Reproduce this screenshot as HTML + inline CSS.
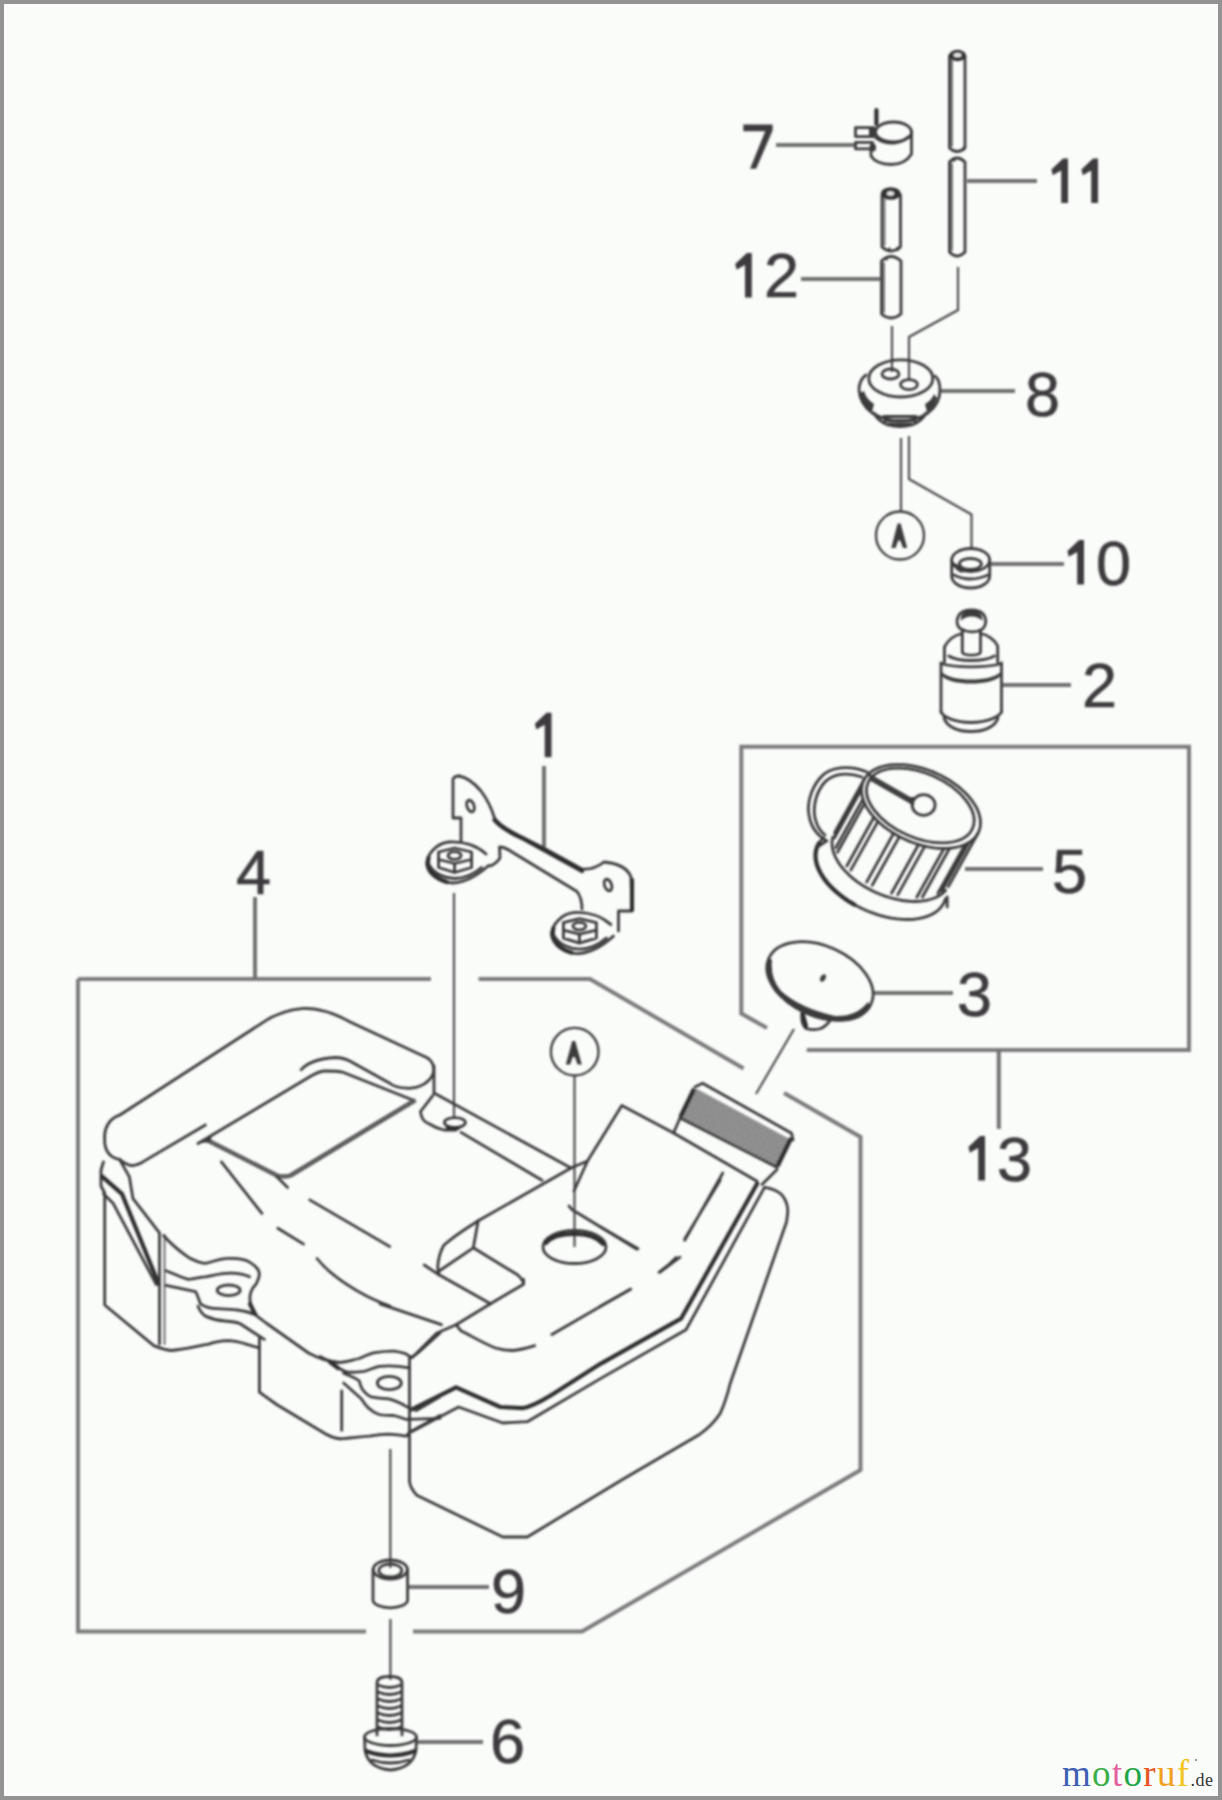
<!DOCTYPE html>
<html><head><meta charset="utf-8"><title>Parts diagram</title>
<style>
html,body{margin:0;padding:0;background:#fafcfa;}
body{width:1222px;height:1800px;overflow:hidden;}
svg{display:block;}
.bx{fill:none;stroke:#7a7a7a;stroke-width:4;stroke-linecap:butt;stroke-linejoin:miter;}
.ld{fill:none;stroke:#707070;stroke-width:4;}
.cn{fill:none;stroke:#484848;stroke-width:2.2;}
.p{fill:none;stroke:#3a3a3a;stroke-width:2.8;stroke-linecap:round;stroke-linejoin:round;}
.pt{fill:none;stroke:#2e2e2e;stroke-width:4.2;stroke-linecap:round;stroke-linejoin:round;}
.pl{fill:none;stroke:#6a6a6a;stroke-width:1.8;stroke-linecap:round;}
.f{fill:#3a3a3a;stroke:none;}
.t{font-family:"Liberation Sans",sans-serif;font-size:63px;fill:#3d3b3d;stroke:#3d3b3d;stroke-width:0.6;}
</style></head>
<body>
<svg width="1222" height="1800" viewBox="0 0 1222 1800">
<defs>
<pattern id="hatch" patternUnits="userSpaceOnUse" width="4" height="4" patternTransform="rotate(30)">
<rect width="4" height="4" fill="#b4b4b4"/>
<rect x="0" y="0" width="2" height="2" fill="#5a5a5a"/>
<rect x="2" y="2" width="2" height="2" fill="#6a6a6a"/>
</pattern>
<filter id="soft" filterUnits="userSpaceOnUse" x="0" y="0" width="1222" height="1800">
<feGaussianBlur stdDeviation="0.8"/>
</filter>
</defs>
<!-- frame -->
<rect x="2" y="2" width="1218" height="1796" fill="none" stroke="#939393" stroke-width="4"/>

<g filter="url(#soft)">
<!-- BOX 13 -->
<path class="bx" d="M767,1028 L741.3,1013.5 L741.3,746.7 L1189,746.7 L1189,1050 L806.7,1050"/>
<path class="ld" d="M998.8,1050 L998.8,1129"/>
<!-- BOX 4 -->
<path class="bx" d="M78,979 L431,979 M478.6,979 L590,979 L743.6,1068.6 M784,1093 L860.5,1137 L860.5,1470 L582,1631.5 L413,1631.5 M366,1631.5 L78,1631.5 L78,979"/>
<path class="ld" d="M255,897 L255,979"/>

<!-- LEADERS -->
<path class="ld" d="M776,145 L855,145 M967,181 L1037,181 M801,279 L880,279 M941,391 L1015,391 M991,564 L1064,564 M1001,685 L1071,685 M544,766 L544,847 M965,869 L1043,869 M873,993 L953,993 M408,1587 L489,1587 M416.6,1742 L483,1742"/>

<!-- CONNECTION LINES -->
<path class="cn" d="M958,267 L958,310 L909,337 L909,381 M892,326 L892,372 M901,438 L901,512 M909,436 L909,479 L971.5,514.5 L971.5,550 M454,893 L454,1118 M574.5,1076 L574.5,1247 M794,1029 L756,1094 M390.3,1449 L390.3,1568 M390.4,1619 L390.4,1680"/>

<!-- PART 7 clip -->
<g>
<ellipse class="p" cx="893.5" cy="132" rx="18" ry="10"/>
<path class="p" d="M911.5,132 L911.5,154 Q905,164.5 891,164.5 Q876,164 871,156 L871,146"/>
<path class="p" d="M876,138 Q884,143.5 894,143 Q903,142 908,137"/>
<rect class="p" x="855.5" y="127.6" width="18.5" height="9" />
<rect class="p" x="855.5" y="142.4" width="17" height="6.5" />
<path class="pt" d="M876.4,110 L876.4,124"/>
<ellipse class="f" cx="873" cy="147.5" rx="3" ry="4"/>
<rect class="f" x="869" y="129" width="5" height="8"/>
</g>

<!-- TUBES 11 -->
<g>
<path class="p" d="M949.5,56 L949.5,148 Q957,155 965,148 L965,56"/>
<ellipse cx="957.5" cy="55.5" rx="8.5" ry="5.8" fill="#333"/><ellipse cx="957.5" cy="55" rx="4" ry="2" fill="#e8e8e8"/>
<path class="p" d="M949.5,162 Q957,154 965,162 L965,252 Q957,260 949.5,252 Z"/>
<path class="pl" d="M952,60 L952,146 M952,164 L952,250"/>
</g>
<path class="f" d="M960,151 L964.5,145 L964.5,151 Z M951,160 L956,157 L955,162 Z"/>
<!-- TUBES 12 -->
<g>
<path class="p" d="M882,195 L882,247 Q891,255 900.5,247 L900.5,195"/>
<ellipse cx="890.8" cy="193.5" rx="10" ry="6.3" fill="#333"/><ellipse cx="890.5" cy="193.5" rx="3.5" ry="2.2" fill="#e8e8e8"/>
<path class="p" d="M881.5,261 Q891,252 901,261 L901,314 Q891,322 881.5,314 Z"/>
<path class="pl" d="M884.5,199 L884.5,245 M884,263 L884,312"/>
</g>

<path class="f" d="M886,250 L890,247 L891,252 Z M894,250 L898,246 L899,251 Z M884,258 L889,256 L887,261 Z"/>
<!-- PART 8 grommet -->
<g>
<ellipse class="p" cx="900.8" cy="378.4" rx="32" ry="18.6"/>
<path class="p" d="M866,375 Q859,380 859,390 Q860,404 872,413 Q886,421 900,421 Q916,421 928,413 Q940,404 940,390 Q940,380 935,376"/>
<path d="M860,393 Q862,405 872,412 L874,404 Q866,399 864,391 Z" class="f"/>
<path d="M937,398 Q935,407 927,412 L925,404 Q932,400 934,394 Z" class="f"/>
<path class="p" d="M874,413 Q878,421 888,425 Q900,428 912,425 Q922,421 926,413"/>
<path class="p" d="M884,416.5 L916,416.5 M885,420.5 L915,420.5 M889,424 L911,424"/>
<ellipse class="p" cx="890.5" cy="374" rx="8.5" ry="5"/>
<ellipse class="p" cx="909" cy="384.6" rx="8.5" ry="5"/>
</g>

<!-- Circle A (top) -->
<circle cx="900" cy="535.5" r="24" fill="none" stroke="#3a3a3a" stroke-width="2.3"/>
<path class="f" d="M891.3,548 L897.6,523.5 L900.6,523.5 L907.2,548 L903,548 L900.2,540.5 L898.2,540.5 L895.6,548 Z"/>

<!-- Circle A (tank) -->
<circle cx="574.7" cy="1051.7" r="23.8" fill="none" stroke="#3a3a3a" stroke-width="2.3"/>
<path class="f" d="M565.8,1064.5 L572.2,1041 L575.2,1041 L581.8,1064.5 L577.6,1064.5 L574.8,1057 L572.8,1057 L570.1,1064.5 Z"/>
<!-- PART 10 -->
<g>
<ellipse class="p" cx="970.7" cy="560" rx="19" ry="11.5"/>
<ellipse class="p" cx="970.4" cy="564" rx="11" ry="5.5"/>
<path class="p" d="M951.7,560 L951.7,576 A19,12 0 0 0 989.7,576 L989.7,560"/>
<path class="p" d="M954,575 Q970,583 988,575"/>
<path class="f" d="M953,562 Q955,572 963,573 L960,566 Z"/>
</g>

<!-- PART 2 filter -->
<g>
<path class="p" d="M962.3,630 L962.3,652 A9.1,3.2 0 0 0 980.5,652 L980.5,630"/>
<path class="p" d="M961,629 C957,627 956,621 958,617 C960,612 965,610 971.5,610 C978,610 983,612 985,617 C987,622 985,628 981,630 C975,632.5 967,632.5 961,629 Z"/>
<path class="f" d="M961,621 C960,615 964,610.5 971.5,610.5 C979,610.5 983,615 982.5,621 C980,618 976,616.5 971.5,616.5 C967,616.5 963,618 961,621 Z"/>
<path class="p" d="M944.4,662 L944.4,647 C948,640 955,635 962,633.5 M980.5,633.5 C988,635 995,640 997.7,646 L997.7,662"/>
<path class="p" d="M948.7,656 C958,662 984,662 994.5,656"/>
<path class="p" d="M941,663 L941,712 M1001.5,663 L1001.5,712"/>
<path class="p" d="M941,663.5 C955,668 987,668 1001.5,663.5"/>
<path class="f" d="M942,672 C950,682 992,682 1000.5,672 L1000.5,676 C992,686 950,686 942,676 Z"/>
<path class="p" d="M941,712 C944,718 956,722 971,722.5 C986,722 998,718 1001.5,712"/>
<path class="p" d="M944,718 C947,727 958,731.5 971,731.5 C984,731.5 995,727 998,718"/>
</g>

<!-- PART 5 cap -->
<g>
<ellipse class="p" cx="920.3" cy="805.5" rx="57" ry="32.3" transform="rotate(23.75 920.3 805.5)"/>
<path class="p" d="M864.2,779.4 L865.8,776.9 L867.8,774.6 L870.1,772.5 L872.7,770.7 L875.7,769.0 L878.9,767.6 L882.4,766.5 L886.2,765.6 L890.2,765.0 L894.4,764.6 L898.8,764.6 L903.3,764.7 L907.9,765.2 L912.6,765.9 L917.4,766.9 L922.2,768.2 L927.0,769.7 L931.7,771.4 L936.4,773.4 L941.0,775.6 L945.4,778.0 L949.7,780.5 L953.8,783.3 L957.7,786.2 L961.3,789.2 L964.7,792.3 L967.8,795.5 L970.6,798.8 L973.1,802.2 L975.3,805.5 L977.1,808.9 L978.5,812.3 L979.5,815.6 L980.2,818.9 L980.5,822.0 L980.4,825.1 L979.9,828.1 L979.1,830.9 L977.8,833.6"/>
<path class="p" d="M977.8,833.6 L948.3,886.6"/>
<path class="p" d="M864.2,779.4 L834.7,832.4"/>
<path class="p" d="M969.0,842.5 L941.8,891.3 M965.0,844.6 L937.9,893.3 M949.6,848.2 L922.4,897.0 M944.0,848.5 L916.8,897.2 M924.8,846.1 L897.7,894.9 M918.6,844.5 L891.5,893.2 M899.4,836.6 L872.2,885.3 M893.7,833.3 L866.6,882.1 M878.0,821.4 L850.8,870.1 M873.9,817.2 L846.8,866.0 M864.6,803.4 L837.5,852.2 M862.9,799.1 L835.8,847.8 M861.5,789.3 L834.4,838.1 M862.0,785.4 L834.8,834.1"/>
<path class="p" d="M977.8,833.6 L976.2,836.1 L974.2,838.4 L971.9,840.5 L969.3,842.3 L966.3,844.0 L963.1,845.4 L959.6,846.5 L955.8,847.4 L951.8,848.0 L947.6,848.4 L943.2,848.4 L938.7,848.3 L934.1,847.8 L929.4,847.1 L924.6,846.1 L919.8,844.8 L915.0,843.3 L910.3,841.6 L905.6,839.6 L901.0,837.4 L896.6,835.0 L892.3,832.5 L888.2,829.7 L884.3,826.8 L880.7,823.8 L877.3,820.7 L874.2,817.5 L871.4,814.2 L868.9,810.8 L866.7,807.5 L864.9,804.1 L863.5,800.7 L862.5,797.4 L861.8,794.1 L861.5,791.0 L861.6,787.9 L862.1,784.9 L862.9,782.1 L864.2,779.4"/>
<path class="p" d="M945.7,890.3 L943.8,892.3 L941.5,894.1 L939.0,895.8 L936.3,897.3 L933.2,898.5 L930.0,899.5 L926.5,900.3 L922.9,900.9 L919.1,901.3 L915.1,901.5 L911.0,901.4 L906.8,901.0 L902.5,900.5 L898.2,899.7 L893.8,898.7 L889.4,897.5 L885.0,896.1 L880.7,894.5 L876.4,892.7 L872.2,890.8 L868.1,888.6 L864.1,886.3 L860.3,883.8 L856.7,881.3 L853.2,878.6 L849.9,875.7 L846.9,872.8 L844.1,869.9 L841.6,866.9 L839.3,863.8 L837.4,860.7 L835.7,857.6 L834.3,854.5 L833.3,851.5 L832.5,848.4 L832.1,845.5 L832.0,842.6 L832.2,839.8 L832.8,837.1"/>
<path class="p" d="M945.5,898.7 L944.3,902.0 L942.6,905.1 L940.4,907.9 L937.8,910.5 L934.7,912.8 L931.1,914.8 L927.2,916.4 L922.9,917.7 L918.2,918.7 L913.3,919.3 L908.1,919.5 L902.7,919.4 L897.1,918.9 L891.3,918.1 L885.5,916.9 L879.7,915.3 L873.9,913.4 L868.1,911.2 L862.4,908.8 L856.9,906.0 L851.5,903.0 L846.4,899.7 L841.6,896.2 L837.1,892.6 L832.9,888.8 L829.1,884.9 L825.8,880.9 L822.9,876.9 L820.4,872.8 L818.4,868.7 L817.0,864.7 L816.0,860.8 L815.6,856.9 L815.6,853.2 L816.2,849.7 L817.4,846.3 L819.0,843.2 L821.1,840.3 L823.7,837.7"/>
<path class="pt" d="M854.3,904.6 L849.7,901.9 L845.3,899.0 L841.2,895.9 L837.2,892.7 L833.6,889.4 L830.2,886.1 L827.1,882.6 L824.4,879.1 L822.0,875.5 L820.0,872.0 L818.3,868.4 L817.0,864.9 L816.1,861.5 L815.6,858.1 L815.5,854.8 L815.8,851.7 L816.5,848.6 L817.6,845.8 L819.1,843.1"/>

<path class="p" d="M867,772 C850,765 830,766 820,778 C810,790 807,805 809,815 C811,828 818,836 827,841"/>
<path class="p" d="M862,777 C848,772 833,773 824,783 C815,794 813,808 815,818 C817,827 821,832 825,835"/>
<path class="p" d="M869,775 L912.5,800 M870,779 L911,802.5"/>
<ellipse class="p" cx="923.6" cy="805" rx="11.5" ry="10.3"/>
<path class="f" d="M911,797 L914.5,797 L914,806 L910,803 Z"/>
<path class="p" d="M819,846 L825,842 M947.2,897 L947.2,907"/>
</g>
<!-- PART 3 disk -->
<g>
<ellipse class="p" cx="820" cy="981" rx="56" ry="35" transform="rotate(24 820 981)"/>
<path d="M768,957 Q763,975 775,992 Q795,1013 835,1021 Q860,1024 871,1007 L868,1002 Q856,1017 835,1016 Q800,1008 781,991 Q770,978 772,960 Z" class="f"/>
<ellipse class="f" cx="823" cy="978" rx="2.5" ry="4" transform="rotate(30 823 978)"/>
<path class="p" d="M801.8,1013 Q801,1025 806,1028.5 Q815,1031 822,1028 Q828,1024 829.5,1021"/>
<path class="pt" d="M803,1015 L806,1026"/>
</g>

<!-- PART 1 bracket -->
<g>
<path class="p" d="M459,776 Q452,776 453,782 L453,818 L461,818 L461,841"/>
<path class="p" d="M459,776 Q470,778 481,791 Q490,803 494.5,818 Q500,826 520,836 L542,847 L582,869 Q594,870 604,862 Q626,864 631,877 L632,911 L618.5,911 L618.5,931"/>
<path class="pt" d="M494.5,820 Q502,829 522,838 L542,849 L582,871"/>
<path class="pt" d="M632,880 L632,910"/>
<path class="p" d="M499.5,847 L500,858 Q496,864 490,866 M499.5,847 Q505,847 512,852 L577,891.5 Q582,898 582,909"/>
<ellipse class="p" cx="470.5" cy="806" rx="3.5" ry="6" transform="rotate(-20 470.5 806)"/>
<ellipse class="p" cx="608" cy="885" rx="3.5" ry="6" transform="rotate(-20 608 885)"/>
<!-- nut 1 -->
<path class="p" d="M486.1,854.0 C476.6,845.5 462.6,841.0 448.6,842.0 C436.6,843.5 427.6,853.5 426.6,863.5 C427.6,874.5 439.6,882.5 452.6,883.0 C466.6,882.5 478.6,874.5 488.6,865.5"/>
<path class="pt" d="M428.6,857.5 C425.6,867.5 432.6,877.5 446.6,882.0"/>
<path class="p" d="M454.6,863.5 L438.6,859.5 L438.6,852.0 L454.6,848.0 L471.6,852.0 L471.6,859.5 Z"/>
<path class="p" d="M438.6,859.5 L438.6,867.5 L454.6,872.5 L471.6,867.5 L471.6,859.5 M454.6,863.5 L454.6,872.5"/>
<path class="p" d="M429.6,865.5 C434.6,874.5 446.6,878.5 454.6,878.5 C464.6,878.5 474.6,873.5 481.6,867.5"/>
<ellipse class="p" cx="454.6" cy="855.5" rx="6.5" ry="3.8"/>
<!-- nut 2 -->
<path class="p" d="M610.9,924.6 C601.4,916.1 587.4,911.6 573.4,912.6 C561.4,914.1 552.4,924.1 551.4,934.1 C552.4,945.1 564.4,953.1 577.4,953.6 C591.4,953.1 603.4,945.1 613.4,936.1"/>
<path class="pt" d="M553.4,928.1 C550.4,938.1 557.4,948.1 571.4,952.6"/>
<path class="p" d="M579.4,934.1 L563.4,930.1 L563.4,922.6 L579.4,918.6 L596.4,922.6 L596.4,930.1 Z"/>
<path class="p" d="M563.4,930.1 L563.4,938.1 L579.4,943.1 L596.4,938.1 L596.4,930.1 M579.4,934.1 L579.4,943.1"/>
<path class="p" d="M554.4,936.1 C559.4,945.1 571.4,949.1 579.4,949.1 C589.4,949.1 599.4,944.1 606.4,938.1"/>
<ellipse class="p" cx="579.4" cy="926.1" rx="6.5" ry="3.8"/>

</g>


<!-- TANK -->
<g>
<!-- lid outer top -->
<path class="p" d="M104.7,1137.3 C104,1128 110,1118 119.5,1115.2 L261.9,1023.1 C272,1016 285,1010 303.6,1008.4 C318,1008 332,1012 350.2,1021.9 L426.6,1057.5 C433,1061 435,1068 432.8,1074.7 C429,1083 418,1089 407,1088.2 C399,1088 393,1086 389.8,1083.3 L350.2,1061.2 C346,1059 342,1057.5 335.5,1057.5 C318,1058 306,1064 301.1,1069.8"/>
<!-- lid right side -->
<path class="p" d="M434,1066 L434,1093"/>
<!-- lid front edge -->
<path class="p" d="M104.7,1137.3 C104,1148 108,1157 119.5,1159.4 C124,1163 128,1165.5 131.7,1165.5 C136,1165.5 139,1164 142.8,1161.9 L205.4,1125"/>
<!-- recess inner top -->
<path class="p" d="M198,1143.5 L311,1076 C316,1073 320,1071 325.7,1071 C332,1071 338,1071 342.9,1072.2 L414,1100.5"/>
<!-- recess bottom double -->
<path d="M206,1139.5 L277,1175.5 C282,1177 286,1177 290.5,1175.5 L415.5,1100" fill="none" stroke="#505050" stroke-width="4.4" stroke-linejoin="round"/>
<path d="M206,1139.5 L277,1175.5 C282,1177 286,1177 290.5,1175.5 L415.5,1100" fill="none" stroke="#8a8a8a" stroke-width="1.2" stroke-dasharray="2 2"/>
<path class="f" d="M198,1143.5 L212,1136 L210,1142 Z"/>
<!-- step near hole -->
<path class="p" d="M432.8,1095.6 L420.5,1111.5 C421,1118 424,1122 429,1123.8 C434,1127 439,1129 443.8,1130 L456,1130"/>
<!-- hole -->
<ellipse class="p" cx="454.9" cy="1122.6" rx="10.5" ry="5"/>
<path class="pt" d="M448,1128 L458,1128"/>
<!-- top edge right of lid -->
<path class="p" d="M434,1093 L571,1168"/>
<path class="p" d="M461,1132.4 L542,1180.3"/>
<!-- neck -->
<path class="p" d="M571,1168 L478.2,1220.8 C470,1226 455,1235 443.8,1245.3 C440,1252 438,1262 437.7,1267.4 L439,1274.8"/>
<path class="p" d="M478.2,1220.8 L473.3,1247.8 L437.7,1272 M473.3,1247.8 L517.5,1274.8 C521,1278 523.6,1281 523.6,1284.2 L523.6,1279.3 M424.2,1265 L439,1274.8 L490.5,1303.8 L523.6,1284.2"/>
<path class="p" d="M571,1168 L587.5,1161 L621.8,1105.5 L673.6,1133 L757.1,1181.3"/>
<path class="p" d="M587.5,1161 L574,1191"/>
<path class="p" d="M569,1206 C571,1209 573,1211 576.4,1212.2 L636.6,1249"/>
<!-- thread -->
<path d="M692.5,1087.5 L699,1090 L790.5,1139.5 L777.3,1167.5 L680.1,1118 Z" fill="url(#hatch)" stroke="none"/>
<path class="p" d="M695,1087 L702.6,1083.2 L791.6,1133.3 L793,1140 M680.1,1118 L777.3,1167.5"/>
<path d="M694,1089 L680.5,1117 M791,1138 L777.5,1166" stroke="#2e2e2e" stroke-width="4.5" fill="none"/>
<path class="p" d="M680.2,1117.5 L673.6,1133 M776.8,1169.8 L762,1184.6"/>
<!-- front heavy line -->
<path class="pt" d="M757.1,1183.7 L681,1318.7 L600,1364.1 L551.9,1394.7 C540,1402 530,1407 522.4,1408.2 L500.3,1407 L456.1,1387.3 L412,1409.4"/>
<path class="p" d="M764.5,1187.4 L686,1329.8 L600,1378.9 L527.3,1421.7 L502.8,1423 L458.6,1407 L412,1431.5"/>
<!-- tank right outline -->
<path class="p" d="M764.5,1187.4 C772,1188 779,1192 781.7,1194.7 C786,1200 788,1206 787.8,1212 L786.6,1221.7 L730.1,1383.8 C727,1397 724,1405 720.3,1413.2 C714,1423 706,1430 698.2,1435.3 L624.6,1478.3 L527.3,1537 L502.8,1537 L416.8,1495.3 C412,1490 409.5,1485 409.5,1480.6 L409.5,1357.8"/>
<!-- misc inner lines -->
<path class="p" d="M722.8,1173 L684.7,1240.4 M720.3,1180 L684.7,1238.9"/>
<path class="p" d="M659,1272.3 C665,1268 671,1263 676,1257.6"/>
<path class="p" d="M600,1306.4 L630.7,1289.3"/>
<path class="p" d="M600,1226.6 L638,1248.7"/>
<path class="p" d="M551.9,1334.5 L630.4,1289.1"/>
<path class="p" d="M660,1272 L680,1257.2"/>
<path class="p" d="M456.1,1324.7 L461,1330.8 C475,1338 485,1344 495.4,1348 C502,1350 507,1350.5 512.6,1350.5 C520,1350 527,1348 534.7,1345.6"/>
<path class="p" d="M490.5,1303.8 L456.1,1324.7 L436.5,1333.3 L412,1357.8"/>
<path class="p" d="M380,1303.8 L441.4,1324.7"/>
<!-- hole A ellipse -->
<ellipse class="p" cx="574.5" cy="1247" rx="31.5" ry="16.5"/>
<path class="pt" d="M546,1243 C552,1236 563,1234 574.5,1234 C587,1234 597,1237 603,1244"/>
<!-- left part lines -->
<path class="p" d="M221.4,1161.9 L261.9,1213.4"/>
<path class="p" d="M276.6,1176.6 L287.6,1187.6"/>
<path class="p" d="M309.7,1199.9 L389.8,1246.6"/>
<path class="p" d="M277.8,1228.2 L303.6,1244.1"/>
<path class="p" d="M317,1258.5 C330,1275 360,1296 390,1306"/>
<!-- tank left side -->
<path class="p" d="M103.5,1161.9 L101,1170 L101,1186 L104.7,1193 L104.7,1305 L153.8,1345.6 C160,1348 165,1350 171,1350.5 C185,1349 197,1346 207.8,1344.3 C215,1342 221,1340.7 227.5,1340.7 C235,1341 241,1342.5 247,1344.3 L259.4,1348"/>
<path class="pt" d="M102.3,1176.6 L121.9,1193.8 L158.7,1284"/>
<path class="p" d="M119.5,1159.4 L129.3,1176.6 L133,1198.7 L158.7,1231.8"/>
<path class="p" d="M103.5,1193.8 L113.3,1203.6 L156.3,1284.6"/>
<path class="p" d="M159.5,1233 L159.5,1344"/><path class="pl" d="M164.5,1235 L164.5,1344" style="stroke-width:2"/>
<!-- flange 1 -->
<path class="p" d="M163.6,1235.5 C170,1243 178,1250 188.2,1257.2 C195,1261 200,1263 205.4,1263.3 C213,1262 220,1258.4 227.5,1258.4 C238,1258 245,1259 249.6,1262.1 C256,1266 259.4,1270 259.4,1274.4 C259,1279 257,1282 256,1284.2 C252,1288 250.5,1292 250,1296 C249.6,1302 251,1310 257,1316.1 L266.8,1323.5 L308.5,1353 C320,1359 330,1362.4 339.6,1362.4"/>
<path class="p" d="M166,1270.7 C175,1274 182,1278 188.2,1279.3 C195,1279 200,1277 205.4,1276.8 C215,1275 222,1273.1 230,1273.1 C238,1273 244,1274 249.6,1276.8"/>
<path class="p" d="M166,1285.4 C178,1288 188,1290 195.6,1291.6 C198,1296 199,1300 200.5,1303.8 C205,1307 211,1308.5 217.7,1308.7 C225,1309 231,1309.5 237.3,1310 C244,1311 249,1312 252,1313.7"/>
<path class="p" d="M198,1306.3 C200,1311 202,1314 205.4,1316.1 C212,1319 218,1320.5 225,1321 C231,1321.5 236,1322 239.8,1323.5 L264.3,1339.4"/>
<path class="pt" d="M250,1304 L255,1314"/>
<ellipse class="p" cx="228.7" cy="1290.3" rx="11.5" ry="5.3"/>
<!-- step -->
<path class="p" d="M259.4,1338.2 L259.4,1392.2 L276.6,1404.5 L325.7,1434 C331,1437 336,1438.5 340.4,1438.9"/>
<path class="p" d="M341.7,1391 L341.7,1430.3"/>
<!-- flange 2 -->
<path class="p" d="M320,1356.5 C326,1360 333,1362.4 339.6,1362.4 C346,1362 352,1360 359.3,1358.5 C365,1356 370,1353.5 375,1352.6 C382,1351.5 388,1351 393.7,1351.1 C398,1351.5 402,1352.5 405.5,1353.6 L411.4,1357.5 L418.2,1352.6 L440,1333"/>
<path class="p" d="M329.8,1362.4 C337,1367 342,1371 347.5,1372.2 C353,1372.5 358,1372 364.2,1371.3 C369,1370 374,1367.5 379,1366.3 C386,1365.8 392,1365.8 398.6,1366.3 L409.4,1367.8"/>
<path class="p" d="M343.6,1373.2 C350,1376 356,1378 359.3,1381 C360,1384 361,1387 362.2,1389 C365,1393 368,1395.5 371,1396.8 C377,1398 383,1398.5 388.8,1398.8 C394,1400 398,1402 401.5,1403.7 L408.4,1407.6 L416.3,1410.5 L440,1396.8"/>
<path class="p" d="M343.6,1383 L361.3,1398.8 C364,1403 366,1406 369.1,1408.6 C372,1411.5 375,1413 379,1414.5 C384,1415.5 389,1415.5 393.7,1415.5 C398,1416.5 402,1418 406.4,1419.4 L440,1418.4"/>
<ellipse class="p" cx="389.3" cy="1383" rx="12" ry="6.6"/>
<path class="p" d="M340.4,1438.9 C344,1438.6 347,1438.2 349.5,1438 C356,1437.5 362,1436.5 369.1,1436.1 C376,1435 382,1434.2 388.8,1434.1 C395,1434.3 401,1435 406.4,1436.1 L409.4,1432.2 L440,1415.5"/>
<path class="pt" d="M330,1362 L338,1368"/>
</g>
<!-- PART 9 -->
<g>
<ellipse class="p" cx="390.3" cy="1569.5" rx="17" ry="9.5"/>
<ellipse class="p" cx="390.3" cy="1570.5" rx="11.5" ry="6.5"/>
<path class="p" d="M373,1569 L373,1600 A17.3,7.8 0 0 0 407.6,1600 L407.6,1569"/>
</g>
<!-- PART 6 screw -->
<g>
<path class="p" d="M377,1683 Q377,1676.5 389.5,1676.5 Q402,1676.5 402,1683 L402,1735 M377,1683 L377,1735"/>
<path class="p" d="M378,1685 Q389.5,1690 401,1685 M378,1692 Q389.5,1697 401,1692 M378,1699 Q389.5,1704 401,1699 M378,1706 Q389.5,1711 401,1706 M378,1713 Q389.5,1718 401,1713 M378,1720 Q389.5,1725 401,1720 M378,1727 Q389.5,1732 401,1727"/>
<ellipse class="p" cx="390.5" cy="1737" rx="26" ry="8.5"/>
<path class="p" d="M364.5,1737 L365,1750 Q368,1768 390.5,1770 Q413,1768 416,1750 L416.5,1737"/>
<path class="pt" d="M366,1751 Q390,1760 415,1751"/>
<path class="p" d="M372,1760 Q390,1766 409,1760"/>
</g>

<!-- LABELS -->
<g class="t">
<text x="1025" y="416">8</text>
<text x="1096" y="585">0</text>
<text x="764" y="297">2</text>
<text x="1082" y="707">2</text>
<text x="1052" y="893">5</text>
<text x="236" y="894">4</text>
<text x="957" y="1016">3</text>
<text x="997" y="1181">3</text>
<text x="491" y="1613">9</text>
<text x="490" y="1763">6</text>
</g>
<g fill="#3d3b3d">
<path d="M743.6,124.8 L772.3,124.8 L772.3,130.6 L756,168.5 L750.4,168.5 L765.6,131 L743.6,131 Z" stroke="#3d3b3d" stroke-width="0.5"/>
<path id="one" d="M0,0 L0,44.5 L-6.8,44.5 L-6.8,12 L-15.2,16.8 L-16.6,11 L-5,0 Z" transform="translate(1068,158.5)"/>
<path d="M0,0 L0,44.5 L-6.8,44.5 L-6.8,12 L-15.2,16.8 L-16.6,11 L-5,0 Z" transform="translate(1098,158.5)"/>
<path d="M0,0 L0,44.5 L-6.8,44.5 L-6.8,12 L-15.2,16.8 L-16.6,11 L-5,0 Z" transform="translate(751.8,253)"/>
<path d="M0,0 L0,44.5 L-6.8,44.5 L-6.8,12 L-15.2,16.8 L-16.6,11 L-5,0 Z" transform="translate(1084,540)"/>
<path d="M0,0 L0,44.5 L-6.8,44.5 L-6.8,12 L-15.2,16.8 L-16.6,11 L-5,0 Z" transform="translate(551.5,712.8)"/>
<path d="M0,0 L0,44.5 L-6.8,44.5 L-6.8,12 L-15.2,16.8 L-16.6,11 L-5,0 Z" transform="translate(985,1136)"/>
</g>

</g>
<!-- LOGO -->
<g font-family="Liberation Serif, serif" font-size="37" letter-spacing="1.3">
<text x="1062" y="1786"><tspan fill="#3d5fb3">m</tspan><tspan fill="#3bae48">o</tspan><tspan fill="#e4629f">t</tspan><tspan fill="#1fa64a">o</tspan><tspan fill="#e8551f">r</tspan><tspan fill="#f2a11e">u</tspan><tspan fill="#f3c61f">f</tspan><tspan fill="#333" font-size="18" letter-spacing="0.5">.de</tspan></text>
</g>
<circle cx="1196" cy="1760" r="1" fill="#777"/>
</svg>
</body></html>
